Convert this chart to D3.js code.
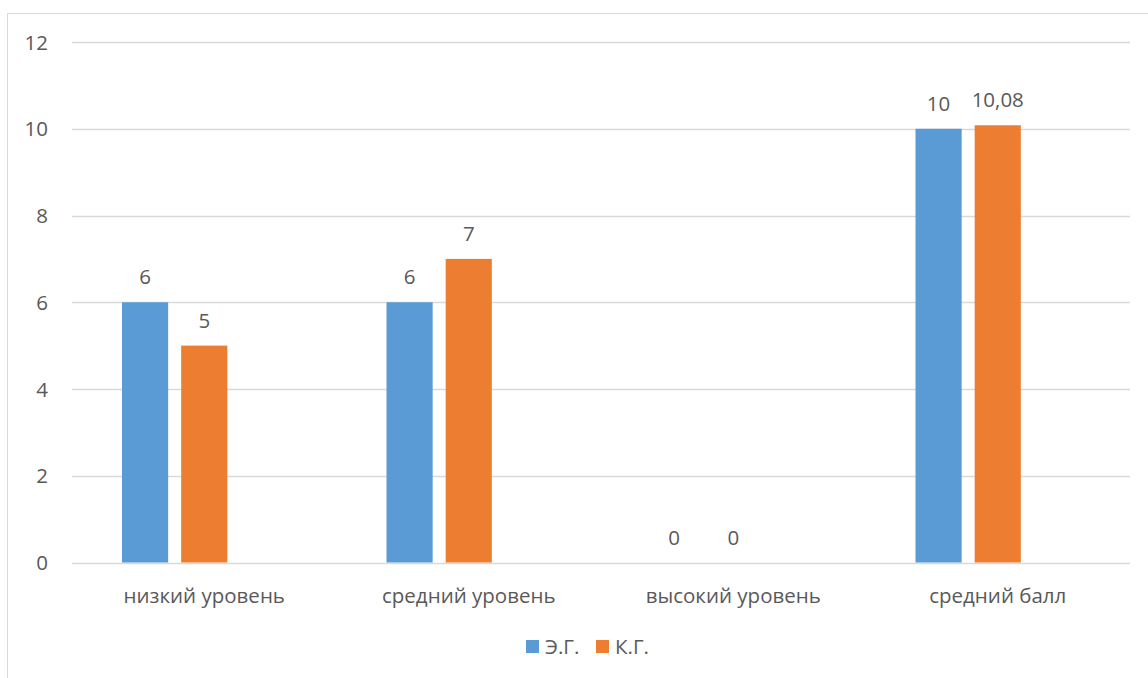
<!DOCTYPE html>
<html>
<head>
<meta charset="utf-8">
<script src="https://cdn.jsdelivr.net/npm/d3@7"></script>
<style>
  body { margin: 0; background: #fff; }
  text { font-family: "Open Sans", "Noto Sans", sans-serif; fill: #595959; }
</style>
</head>
<body>
<svg id="app" width="1148" height="678"></svg>
<script>
// данные
const categories = ["низкий уровень", "средний уровень", "высокий уровень", "средний балл"];
const seriesNames = ["Э.Г.", "К.Г."];
const egValues = [6, 6, 0, 10];
const kgValues = [5, 7, 0, 10.08];
const yTicks = [0, 2, 4, 6, 8, 10, 12];
const colors = ["#5b9bd5", "#ed7d31"];

const W = 1148, H = 678;
const PLOT = { LEFT: 72, RIGHT: 1130, TOP: 42, BOTTOM: 562.5 };
const FS = 20.5;   // размер шрифта

const svg = d3.select("#app");

// рамка диаграммы
svg.append("rect")
  .attr("x", 7.5).attr("y", 13.5)
  .attr("width", W).attr("height", H)
  .attr("fill", "none").attr("stroke", "#d9d9d9");

const x = d3.scaleBand()
  .domain(categories)
  .range([PLOT.LEFT, PLOT.RIGHT]);

// 3 места в группе (третье пустое, как в Excel)
const xSlot = d3.scaleBand()
  .domain(d3.range(3))
  .range([50, x.bandwidth() - 50])
  .paddingInner(0.22);

const y = d3.scaleLinear()
  .domain([0, 12])
  .range([PLOT.BOTTOM, PLOT.TOP]);

// сетка
svg.append("g").selectAll("line")
  .data(yTicks)
  .enter().append("line")
  .attr("x1", PLOT.LEFT).attr("x2", PLOT.RIGHT)
  .attr("y1", d => Math.round(y(d)) + 0.5)
  .attr("y2", d => Math.round(y(d)) + 0.5)
  .attr("stroke", "#d9d9d9").attr("stroke-width", 1.3);

// ось Y
const axisLeft = d3.axisLeft(y).tickValues(yTicks).tickSize(0).tickPadding(0);
const gy = svg.append("g")
  .attr("transform", `translate(48,0)`)
  .call(axisLeft);
gy.select(".domain").remove();
gy.selectAll("text")
  .attr("font-size", FS)
  .attr("font-family", "Open Sans")
  .attr("fill", "#595959")
  .attr("dy", "0.35em");

// ось X
const axisBottom = d3.axisBottom(x).tickSize(0).tickPadding(0);
const gx = svg.append("g")
  .attr("transform", `translate(0,${PLOT.BOTTOM + 26})`)
  .call(axisBottom);
gx.select(".domain").remove();
gx.selectAll("text")
  .attr("font-size", FS)
  .attr("font-family", "Open Sans")
  .attr("fill", "#595959")
  .attr("dy", "0.7em");

// столбцы
const series = [egValues, kgValues];
series.forEach((vals, s) => {
  const g = svg.append("g");
  g.selectAll("rect")
    .data(vals)
    .enter().append("rect")
    .attr("x", (d, i) => x(categories[i]) + xSlot(s))
    .attr("y", d => y(d))
    .attr("width", xSlot.bandwidth())
    .attr("height", d => y(0) - y(d))
    .attr("fill", colors[s]);

  g.selectAll("text")
    .data(vals)
    .enter().append("text")
    .attr("text-anchor", "middle")
    .attr("font-size", FS)
    .attr("x", (d, i) => x(categories[i]) + xSlot(s) + xSlot.bandwidth() / 2)
    .attr("y", d => y(d) - 18)
    .text(d => String(d).replace(".", ","));
});

// легенда
const legend = svg.append("g").attr("transform", "translate(526,640)");
const legX = [0, 70];
seriesNames.forEach((name, s) => {
  legend.append("rect")
    .attr("x", legX[s]).attr("y", 0)
    .attr("width", 13).attr("height", 13)
    .attr("fill", colors[s]);
  legend.append("text")
    .attr("x", legX[s] + 19).attr("y", 7)
    .attr("dy", "0.35em")
    .attr("font-size", FS)
    .text(name);
});
</script>
</body>
</html>
